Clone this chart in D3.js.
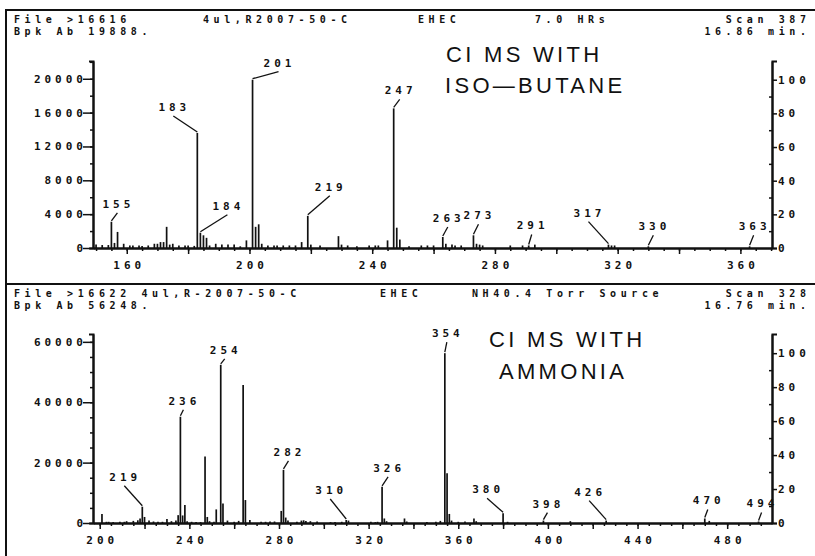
<!DOCTYPE html>
<html>
<head>
<meta charset="utf-8">
<script src="https://cdn.jsdelivr.net/npm/d3@7"></script>
<style>
  body { margin: 0; background: #fff; }
  svg { display: block; color: #111; }
  text { font-family: "DejaVu Sans Mono", monospace; font-weight: bold; font-size: 11px; letter-spacing: 4px; fill: #111; }
  .head { font-size: 10px; letter-spacing: 4.6px; }
  .title { font-family: "Liberation Sans", Arial, sans-serif; font-weight: normal; font-size: 22px; letter-spacing: 3.3px; }
  .frame, .domain { fill: none; stroke: #111; stroke-width: 2; }
  .tick line { stroke-width: 1.5; }
  .peak { stroke: #111; stroke-width: 1.7; }
  .leader { stroke: #111; stroke-width: 1.3; }
</style>
</head>
<body>
<svg width="815" height="556"></svg>
<script>
// ---- iso-butane CI spectrum (top) ----
const topMz = [150, 152, 154, 155, 156, 157, 159, 161, 162, 164, 165, 167, 169, 170, 171, 172, 173, 174, 175, 177,
  179, 180, 182, 183, 184, 185, 186, 187, 189, 191, 193, 195, 197, 199, 201, 202, 203, 204, 206, 208,
  209, 211, 213, 215, 217, 219, 220, 223, 229, 230, 232, 235, 239, 241, 242, 245, 247, 248, 249, 252,
  256, 258, 260, 263, 264, 266, 267, 269, 273, 274, 275, 276, 285, 289, 291, 293, 317, 318, 319, 330, 363];
const topAb = [400, 350, 350, 3100, 600, 1900, 500, 300, 300, 300, 250, 300, 500, 500, 700, 700, 2500, 400, 500, 300,
  300, 300, 250, 13600, 1800, 1500, 1200, 300, 500, 400, 400, 400, 200, 900, 19888, 2500, 2800, 500, 300, 300,
  300, 300, 300, 300, 700, 3800, 400, 300, 1400, 400, 300, 200, 300, 300, 300, 900, 16500, 2400, 1000, 200,
  300, 300, 300, 1300, 500, 400, 300, 300, 1500, 500, 400, 300, 300, 300, 300, 400, 400, 300, 300, 200, 200];
const topLabels = [155, 183, 184, 201, 219, 247, 263, 273, 291, 317, 330, 363];
const topHeader = ["File >16616", "4ul,R2007-50-C", "EHEC", "7.0 HRs", "Scan 387"];
const topHeader2 = ["Bpk Ab 19888.", "16.86 min."];
const topTitle = ["CI MS WITH", "ISO\u2014BUTANE"];

// ---- ammonia CI spectrum (bottom) ----
const botMz = [201, 203, 204, 206, 209, 211, 212, 215, 217, 218, 219, 220, 222, 224, 226, 228, 230, 232, 234, 235,
  236, 237, 238, 239, 241, 243, 245, 247, 248, 249, 251, 252, 254, 255, 257, 260, 262, 264, 265, 267,
  272, 274, 276, 278, 281, 282, 283, 284, 288, 290, 291, 292, 294, 297, 303, 305, 308, 310, 311, 321,
  323, 324, 326, 327, 328, 336, 337, 346, 350, 352, 354, 355, 356, 357, 360, 363, 367, 368, 380, 382,
  398, 410, 426, 470, 472, 494];
const botAb = [3000, 400, 400, 300, 400, 400, 600, 700, 900, 1500, 5400, 2000, 800, 500, 400, 400, 1300, 600, 800, 2600,
  35200, 2500, 6000, 600, 400, 300, 300, 22000, 2000, 600, 400, 4500, 52400, 6500, 800, 400, 700, 45700, 7600, 1000,
  400, 400, 500, 500, 4000, 17600, 1800, 800, 400, 800, 900, 700, 600, 500, 300, 300, 400, 1000, 800, 400,
  300, 400, 12000, 1500, 600, 1500, 500, 300, 400, 700, 56248, 16500, 3000, 800, 400, 500, 1500, 600, 3200, 400,
  800, 600, 800, 1500, 700, 500];
const botLabels = [219, 236, 254, 282, 310, 326, 354, 380, 398, 426, 470, 494];
const botHeader = ["File >16622 4ul,R-2007-50-C", "EHEC", "NH40.4 Torr Source", "Scan 328"];
const botHeader2 = ["Bpk Ab 56248.", "16.76 min."];
const botTitle = ["CI MS WITH", "AMMONIA"];

const svg = d3.select("svg");
const LS = 4;     // letter-spacing of the plotter font
const HLS = 4.6;  // letter-spacing of header lines

svg.append("path").attr("class", "frame").attr("d", "M6,283V10H815");
svg.append("path").attr("class", "frame").attr("d", "M6,556V284H815");

function drawPanel(p) {
  const g = svg.append("g");
  const x = d3.scaleLinear().domain(p.xDomain).range(p.xRange);
  const y = d3.scaleLinear().domain(p.yDomain).range(p.yRange);
  const pct = d3.scaleLinear().domain([0, p.yDomain[1] / p.basePeak * 100]).range(p.yRange);
  const [x0, x1] = p.xRange;
  const y0 = p.yRange[0];
  const xTicks = step => d3.range(Math.ceil(p.xDomain[0] / step) * step, p.xDomain[1], step);

  // x axis: short ticks every 5, longer every 20, numbers every 40
  g.append("g").attr("transform", `translate(0,${y0})`)
    .call(d3.axisBottom(x).tickValues(xTicks(5)).tickSize(3).tickSizeOuter(0).tickFormat(""));
  g.append("g").attr("transform", `translate(0,${y0})`)
    .call(d3.axisBottom(x).tickValues(xTicks(20)).tickSize(6).tickSizeOuter(0).tickFormat(""));
  g.append("g").attr("transform", `translate(0,${y0})`)
    .call(d3.axisBottom(x).tickValues(xTicks(40)).tickSize(0).tickPadding(13).tickSizeOuter(0))
    .call(a => a.select(".domain").remove())
    .selectAll("text").attr("dx", LS / 2);

  // left abundance axis
  g.append("g").attr("transform", `translate(${x0},0)`)
    .call(d3.axisLeft(y).tickValues(d3.range(0, p.yDomain[1], p.yMinor)).tickSize(3).tickSizeOuter(0).tickFormat(""));
  g.append("g").attr("transform", `translate(${x0},0)`)
    .call(d3.axisLeft(y).tickValues(d3.range(0, p.yDomain[1], p.yMajor)).tickSize(10).tickPadding(-4).tickSizeOuter(4).tickFormat(d3.format("d")));

  // right percent axis
  g.append("g").attr("transform", `translate(${x1},0)`)
    .call(d3.axisLeft(pct).tickValues(d3.range(10, 100, 20)).tickSize(3).tickSizeOuter(0).tickFormat(""));
  g.append("g").attr("transform", `translate(${x1},0)`)
    .call(d3.axisRight(pct).tickValues(d3.range(0, 101, 20)).tickSize(5).tickPadding(1).tickSizeOuter(5));

  g.selectAll(".tick text").attr("font-size", null).attr("font-family", null);

  // peaks
  g.append("g").selectAll("line").data(d3.zip(p.mz, p.ab)).join("line")
    .attr("class", "peak")
    .attr("x1", d => x(d[0])).attr("x2", d => x(d[0]))
    .attr("y1", y0).attr("y2", d => y(d[1]));

  // peak labels with leader lines
  const abOf = new Map(d3.zip(p.mz, p.ab));
  p.labels.forEach((m, i) => {
    const [dx, dy] = p.labelOff[i];
    const px = x(m), py = y(abOf.get(m));
    const tx = px + dx, ty = py + dy;
    g.append("line").attr("class", "leader")
      .attr("x1", px).attr("y1", py - 1).attr("x2", tx + 1).attr("y2", ty + 9);
    g.append("text").attr("x", tx + LS / 2).attr("y", ty + 4)
      .attr("text-anchor", "middle").text(m);
  });

  // header lines
  p.header.forEach((t, i) => {
    const [hx, anchor] = p.headerPos[i];
    g.append("text").attr("class", "head")
      .attr("x", anchor === "end" ? hx + HLS : hx).attr("y", p.headerY[0])
      .attr("text-anchor", anchor).text(t);
  });
  g.append("text").attr("class", "head").attr("x", 14).attr("y", p.headerY[1]).text(p.header2[0]);
  g.append("text").attr("class", "head").attr("x", 806 + HLS).attr("y", p.headerY[1])
    .attr("text-anchor", "end").text(p.header2[1]);

  // hand-lettered title
  p.title.forEach((t, i) => {
    g.append("text").attr("class", "title")
      .attr("x", p.titlePos[i][0]).attr("y", p.titlePos[i][1]).text(t);
  });
}

drawPanel({
  mz: topMz, ab: topAb, labels: topLabels,
  labelOff: [[5, -18], [-25, -26], [26, -27], [25, -17], [21, -29], [5, -18],
    [4, -19], [4, -20], [2, -20], [-21, -32], [4, -20], [3, -20]],
  xDomain: [149, 370.3], xRange: [93, 772],
  yDomain: [0, 22100], yRange: [248, 61],
  basePeak: 19888, yMajor: 4000, yMinor: 2000,
  header: topHeader, headerPos: [[14, "start"], [203, "start"], [418, "start"], [535, "start"], [806, "end"]],
  header2: topHeader2, headerY: [23, 35],
  title: topTitle, titlePos: [[446, 62], [445, 93]]
});

drawPanel({
  mz: botMz, ab: botAb, labels: botLabels,
  labelOff: [[-19, -30], [2, -16], [3, -15], [4, -18], [-17, -30], [5, -19],
    [1, -20], [-17, -24], [3, -17], [-18, -29], [2, -18], [2, -18]],
  xDomain: [197, 500], xRange: [93, 772],
  yDomain: [0, 62600], yRange: [523, 334],
  basePeak: 56248, yMajor: 20000, yMinor: 5000,
  header: botHeader, headerPos: [[14, "start"], [380, "start"], [472, "start"], [806, "end"]],
  header2: botHeader2, headerY: [297, 309],
  title: botTitle, titlePos: [[489, 347], [499, 379]]
});
</script>
</body>
</html>
